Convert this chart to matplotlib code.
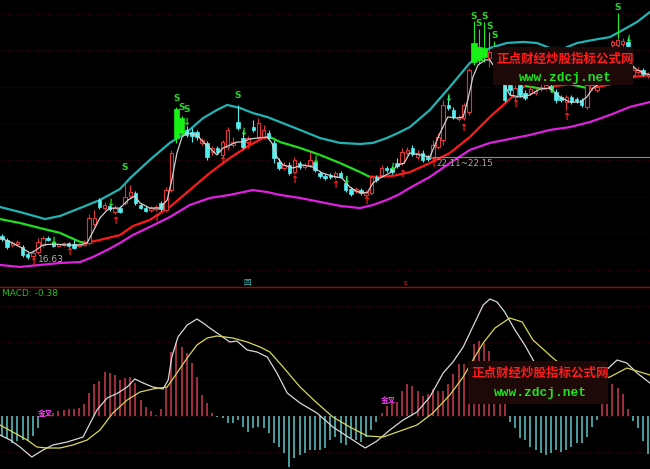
import matplotlib
matplotlib.use('Agg')
import matplotlib.pyplot as plt
from matplotlib.patches import Rectangle
from matplotlib.collections import LineCollection
from matplotlib.lines import Line2D
import numpy as np

# ---------------- data ----------------
opens = [17.89, 17.67, 17.39, 17.44, 17.28, 16.89, 16.78, 17.0, 17.39, 17.78,
         17.56, 17.33, 17.39, 17.5, 17.44, 17.33, 17.39, 17.5, 18.56, 19.89,
         19.44, 19.56, 19.22, 19.44, 19.72, 20.11, 20.28, 19.61, 19.44, 19.33,
         19.39, 19.72, 19.33, 20.44, 23.33, 23.61, 23.78, 23.67, 23.67, 23.06,
         23.06, 22.56, 22.78, 22.39, 22.83, 22.94, 24.22, 23.33, 23.11, 23.94,
         23.39, 23.39, 23.61, 23.06, 22.0, 21.67, 21.83, 21.44, 21.94, 21.72,
         21.83, 22.0, 21.39, 21.22, 21.28, 21.17, 21.39, 20.83, 20.5, 20.39,
         20.44, 20.17, 20.28, 21.17, 21.28, 21.67, 21.67, 21.94, 21.94, 22.5,
         22.78, 22.28, 22.5, 22.28, 22.22, 22.83, 23.22, 25.17, 24.89, 24.39,
         24.44, 24.78, 27.56, 27.67, 27.83, 27.78, 28.22, 27.11, 26.39, 26.28,
         25.61, 26.28, 25.83, 25.83, 25.83, 26.06, 26.11, 26.22, 25.89, 25.61,
         25.33, 25.61, 25.5, 25.44, 25.06, 26.11, 26.0, 26.56, 27.11, 28.5,
         28.5, 28.56, 28.67, 26.83, 27.0, 27.11, 26.78]
closes = [17.72, 17.28, 17.5, 17.56, 16.83, 16.72, 16.94, 17.56, 17.78, 17.67,
          17.33, 17.44, 17.5, 17.33, 17.22, 17.44, 17.5, 18.89, 18.89, 19.5,
          19.61, 19.39, 19.44, 19.22, 20.06, 20.33, 19.72, 19.44, 19.28, 19.44,
          19.5, 19.39, 20.44, 22.5, 24.94, 24.44, 23.5, 23.44, 23.39, 23.22,
          22.28, 22.78, 22.56, 23.11, 23.78, 23.11, 23.89, 22.83, 23.33, 23.78,
          24.17, 23.78, 23.33, 22.22, 21.67, 21.83, 21.39, 22.11, 21.72, 21.83,
          22.11, 21.56, 21.22, 21.11, 21.17, 21.39, 21.17, 20.44, 20.22, 20.5,
          20.28, 20.33, 21.17, 21.0, 21.67, 21.56, 21.44, 21.78, 22.56, 22.67,
          22.44, 22.5, 22.11, 22.17, 22.94, 23.39, 25.17, 25.0, 24.5, 24.5,
          25.17, 27.11, 28.61, 28.39, 28.33, 28.11, 28.06, 26.67, 25.44, 26.0,
          26.11, 25.72, 25.56, 26.06, 25.94, 26.17, 26.28, 26.06, 25.44, 25.44,
          25.61, 25.33, 25.39, 25.17, 26.28, 26.28, 26.17, 27.11, 27.94, 28.67,
          28.78, 28.72, 28.44, 27.11, 27.11, 26.89, 26.89]
highs = [18.0, 17.78, 17.61, 17.67, 17.39, 17.0, 17.11, 17.78, 17.89, 17.89,
         17.61, 17.5, 17.56, 17.56, 17.67, 17.5, 17.67, 19.11, 19.33, 20.0,
         19.78, 19.61, 19.61, 19.56, 20.83, 20.72, 20.39, 19.72, 19.56, 19.56,
         19.61, 19.83, 20.61, 22.67, 25.06, 24.56, 24.0, 23.89, 23.78, 23.33,
         23.17, 22.89, 22.89, 23.22, 23.94, 23.39, 25.17, 23.78, 23.44, 24.33,
         24.44, 24.06, 23.78, 23.22, 22.22, 22.0, 22.0, 22.28, 22.06, 21.94,
         22.56, 22.11, 21.5, 21.33, 21.39, 21.5, 21.5, 21.22, 20.61, 20.61,
         20.56, 20.44, 21.28, 21.28, 21.83, 21.78, 21.78, 22.22, 22.78, 22.83,
         22.94, 22.67, 22.67, 22.39, 23.22, 23.61, 25.44, 25.72, 25.06, 24.61,
         25.28, 27.22, 28.78, 28.5, 28.5, 28.33, 28.5, 27.39, 26.56, 26.44,
         26.28, 26.39, 26.0, 26.22, 26.11, 26.33, 26.39, 26.33, 26.06, 25.72,
         25.72, 25.72, 25.61, 25.56, 26.39, 26.39, 26.28, 27.28, 28.11, 28.78,
         28.89, 28.89, 28.94, 27.39, 27.28, 27.22, 27.0]
lows = [17.61, 17.17, 17.28, 17.33, 16.72, 16.63, 16.67, 16.89, 17.28, 17.61,
        17.28, 17.28, 17.33, 17.28, 17.17, 17.28, 17.33, 17.39, 18.44, 19.39,
        19.33, 19.28, 19.11, 19.17, 19.61, 20.0, 19.61, 19.39, 19.22, 19.22,
        19.28, 19.28, 19.22, 20.33, 23.06, 23.5, 23.39, 23.11, 23.22, 22.94,
        22.11, 22.39, 22.44, 22.28, 22.67, 22.83, 23.78, 22.72, 23.0, 23.67,
        23.28, 23.28, 23.22, 21.94, 21.56, 21.56, 21.28, 21.33, 21.61, 21.61,
        21.72, 21.44, 21.11, 21.0, 21.06, 21.06, 21.11, 20.33, 20.11, 20.28,
        20.17, 20.06, 20.17, 20.89, 21.17, 21.44, 21.33, 21.67, 21.83, 22.39,
        22.33, 22.17, 22.0, 22.06, 22.11, 22.72, 22.94, 24.89, 24.39, 24.28,
        24.33, 24.61, 27.39, 27.5, 27.56, 27.28, 27.94, 26.56, 25.33, 25.72,
        25.44, 25.61, 25.44, 25.72, 25.72, 25.94, 26.0, 25.94, 25.28, 25.33,
        24.89, 25.22, 25.28, 25.06, 24.94, 26.0, 25.89, 26.44, 27.0, 28.33,
        28.39, 28.39, 28.39, 26.67, 26.89, 26.78, 26.67]
signal_bars = [34, 35, 92, 93, 94]

upper_x = [-0.4, 3.5, 8.4, 11.3, 15.2, 19.1, 23, 25, 28.8, 32.7, 36.1, 39.2, 41.9, 43.9, 46.4,
           48.9, 51.7, 54.2, 58.1, 62, 65.9, 69.8, 72.3, 75, 77.2, 79.5, 83.4, 87.3, 91.2, 95.1,
           98.4, 101.6, 104.3, 106.8, 109.7, 112.1, 115.2, 118.5, 121, 123.8, 126.3]
upper_p = [19.5, 19.22, 18.83, 19.0, 19.44, 19.89, 20.5, 21.11, 22.11, 23.06, 23.67, 24.44, 24.89,
           25.17, 25.0, 24.72, 24.5, 24.22, 23.78, 23.33, 23.06, 23.0, 23.06, 23.33, 23.61, 23.94,
           24.89, 26.17, 27.5, 28.33, 28.61, 28.67, 28.61, 28.33, 28.33, 28.61, 28.78, 28.94,
           29.33, 29.78, 30.33]
ma_x = [-0.4, 3.5, 7.4, 11.3, 15.2, 16.4, 19.1, 23, 25.5, 28.8, 32.7, 36.6, 40.5, 44.4, 48.3,
        50.9, 52.2, 54.2, 58.1, 62, 65.9, 69.8, 71.7, 74.7, 76.6, 79.5, 83.4, 87.3, 91.2, 95.1,
        99, 101, 102, 105.5, 107.8, 110.7, 114, 116, 119.9, 123, 126.3]
ma_p = [18.83, 18.61, 18.33, 18.06, 17.56, 17.5, 17.67, 17.94, 18.44, 18.78, 19.5, 20.44, 21.39,
        22.22, 22.94, 23.33, 23.39, 23.11, 22.78, 22.39, 21.94, 21.44, 21.17, 21.19, 21.25, 21.44,
        21.94, 22.5, 23.39, 24.5, 25.5, 26.06, 26.22, 26.06, 26.22, 26.33, 26.11, 26.17, 26.39,
        26.72, 26.83]
lower_x = [-0.4, 3.5, 7.4, 11.3, 15.2, 17.7, 20.5, 23, 25.5, 28.8, 32.7, 36.6, 40.5, 44.4, 48.9,
           51.7, 54.2, 58.1, 62, 65.9, 69.8, 72.3, 75, 77.2, 79.5, 83.4, 87.3, 91.2, 95.1, 99,
           102.9, 106.8, 110.7, 114.6, 118.5, 122.4, 126.3]
lower_p = [16.28, 16.17, 16.28, 16.39, 16.44, 16.72, 17.11, 17.5, 17.94, 18.39, 18.94, 19.61, 20.0,
           20.17, 20.44, 20.33, 20.17, 20.0, 19.78, 19.56, 19.44, 19.61, 19.89, 20.17, 20.56, 21.17,
           21.94, 22.67, 23.06, 23.28, 23.5, 23.78, 23.94, 24.22, 24.61, 25.06, 25.33]
white_x = [-0.4, 1.6, 3.5, 5.5, 6.4, 8, 9.9, 12.7, 15.2, 16.6, 17.7, 19.1, 20.5, 21.6, 23, 24.6,
           25.9, 26.9, 28.8, 30.8, 32.2, 33.1, 34.1, 35.1, 36.1, 38, 39.2, 40.5, 41.9, 43.1, 44.4,
           45.8, 47, 48.3, 49.9, 51.7, 52.6, 53.6, 54.8, 56.7, 58.7, 60.6, 62.4, 64.3, 66.3, 67.8,
           69.4, 71.2, 72.3, 73.7, 75.6, 77.2, 78.4, 79.5, 81.5, 83.4, 85.4, 86.9, 88.7, 89.9,
           90.8, 91.8, 92.8, 94.2, 95.1, 97, 99, 101, 102.9, 104.9, 106.8, 108.8, 110.7, 112.7,
           114, 115.2, 116.6, 119.5, 122, 123.8, 126.3]
white_p = [17.78, 17.56, 17.28, 16.94, 17.06, 17.39, 17.44, 17.39, 17.39, 17.5, 18.11, 18.89, 19.33,
           19.44, 19.44, 19.89, 20.11, 19.72, 19.44, 19.44, 19.89, 21.0, 22.5, 23.39, 23.61, 23.5,
           23.11, 22.78, 22.39, 22.78, 22.94, 23.11, 23.11, 23.28, 23.33, 23.39, 23.06, 22.28,
           21.83, 21.67, 21.83, 21.72, 21.39, 21.22, 21.11, 20.61, 20.33, 20.28, 20.83, 21.11,
           21.39, 21.83, 21.94, 22.5, 22.39, 22.28, 23.61, 24.5, 24.44, 24.5, 25.44, 26.72, 27.39,
           27.67, 27.67, 26.83, 25.72, 25.61, 25.72, 26.06, 26.11, 25.61, 25.33, 25.33, 25.61,
           26.11, 26.39, 27.11, 27.56, 27.11, 26.83]

s_idx = [24, 34, 35, 36, 46, 92, 93, 94, 95, 96, 120]
s_price = [21.67, 25.5, 25.0, 24.89, 25.72, 30.11, 29.67, 30.06, 29.5, 29.0, 30.56]
s_stem = [False, False, False, False, False, True, True, True, True, True, True]
down_idx = [10, 21, 36, 47, 61, 67, 76, 87, 107, 122]
down_price = [17.62, 19.72, 24.22, 23.67, 22.11, 21.0, 21.7, 25.56, 26.0, 28.85]
up_idx = [6, 13, 22, 30, 43, 48, 57, 65, 71, 78, 84, 90, 100, 110]
up_price = [16.44, 17.0, 18.72, 18.89, 22.06, 22.89, 21.0, 20.72, 19.83, 21.33, 21.89, 23.89,
            25.22, 24.5]
low_label = "16.63"
range_label = "22.11~22.15"
range_level = 22.28

macd_hist = [-0.20, -0.23, -0.27, -0.25, -0.24, -0.25, -0.20, -0.12, 0.02, 0.02,
             0.03, 0.05, 0.06, 0.07, 0.07, 0.08, 0.12, 0.23, 0.32, 0.35,
             0.44, 0.43, 0.41, 0.36, 0.38, 0.39, 0.33, 0.16, 0.09, 0.05,
             0.01, 0.07, 0.29, 0.64, 0.73, 0.69, 0.63, 0.53, 0.39, 0.21,
             0.13, 0.03, -0.01, -0.02, -0.07, -0.07, -0.04, -0.11, -0.16, -0.12,
             -0.11, -0.12, -0.17, -0.27, -0.31, -0.37, -0.51, -0.42, -0.39, -0.37,
             -0.34, -0.34, -0.34, -0.32, -0.24, -0.21, -0.27, -0.29, -0.22, -0.24,
             -0.26, -0.21, -0.14, -0.06, 0.03, 0.10, 0.15, 0.14, 0.25, 0.32,
             0.30, 0.25, 0.20, 0.22, 0.27, 0.25, 0.25, 0.32, 0.42, 0.52,
             0.52, 0.50, 0.72, 0.75, 0.73, 0.65, 0.50, 0.35, 0.15, -0.06,
             -0.12, -0.22, -0.24, -0.31, -0.34, -0.37, -0.39, -0.37, -0.34, -0.36,
             -0.34, -0.31, -0.27, -0.27, -0.21, -0.11, -0.04, 0.15, 0.25, 0.32,
             0.28, 0.22, 0.07, -0.05, -0.12, -0.25, -0.38]
dif_x = [-0.4, 1.6, 3.5, 5.8, 8, 9.9, 12.7, 15.8, 17.2, 18.5, 20.5, 22.6, 24.4, 25.9, 27.5, 29.4,
         31.4, 32.4, 33.1, 34.3, 36.1, 38, 39.2, 40.5, 42.5, 44.4, 45.8, 47.8, 49.7, 51.7, 53.6,
         55.6, 58.1, 61.4, 64.5, 67.8, 70.8, 73.1, 75.6, 78.2, 80.9, 83.4, 86, 87.9, 89.9, 91.2,
         92.6, 93.8, 95.1, 96.5, 98, 100, 101.9, 104.3, 106.8, 109.7, 112.7, 115, 117.2, 119.9,
         121.8, 123.8, 126.3]
dif_v = [-0.19, -0.24, -0.31, -0.41, -0.34, -0.29, -0.26, -0.21, -0.07, 0.06, 0.18, 0.23, 0.29,
         0.37, 0.33, 0.29, 0.27, 0.36, 0.59, 0.79, 0.91, 0.97, 0.93, 0.88, 0.81, 0.74, 0.75, 0.66,
         0.64, 0.59, 0.43, 0.23, 0.13, 0.03, -0.11, -0.22, -0.32, -0.25, -0.14, -0.04, 0.04, 0.19,
         0.43, 0.54, 0.69, 0.83, 0.98, 1.11, 1.17, 1.14, 1.04, 0.86, 0.71, 0.49, 0.36, 0.26, 0.21,
         0.28, 0.43, 0.56, 0.53, 0.43, 0.33]
dea_x = [-0.4, 2.1, 4.9, 6.8, 8.8, 11.3, 13.8, 16.6, 19.1, 21.6, 24.4, 26.9, 29.4, 32.2, 34.1,
         36.1, 38, 40, 41.9, 45, 47.8, 50.3, 52.2, 54.8, 58.1, 61.4, 64.5, 67.8, 71.2, 74.3, 77.6,
         80.9, 84, 87.3, 89.9, 91.8, 93.8, 96.1, 99, 101.4, 103.5, 107.4, 110.7, 114.6, 118.5,
         121.8, 124.4, 126.3]
dea_v = [-0.09, -0.16, -0.24, -0.31, -0.32, -0.32, -0.29, -0.24, -0.14, 0.03, 0.16, 0.24, 0.27,
         0.29, 0.43, 0.58, 0.71, 0.78, 0.80, 0.78, 0.74, 0.69, 0.64, 0.49, 0.29, 0.13, -0.01,
         -0.11, -0.2, -0.21, -0.15, -0.09, 0.03, 0.21, 0.39, 0.56, 0.73, 0.88, 0.98, 0.94, 0.76,
         0.58, 0.44, 0.34, 0.39, 0.48, 0.44, 0.41]
cross_idx = [8.5, 75.3]
cross_val = [0.03, 0.16]
cross_label = "金叉"
macd_label = "MACD: -0.38"
site_cn = "正点财经炒股指标公式网"
site_url = "www.zdcj.net"

# ---------------- style ----------------
W, H = 650, 469
CJK = ['Noto Sans CJK SC', 'DejaVu Sans']
RED = '#e0363a'
CYAN = '#54f0f0'
SIG = '#18f018'
price_grid = [16.0, 18.05, 20.07, 22.1, 24.15, 26.17, 28.2, 30.22]
macd_grid = [-0.36, 0.0, 0.37, 0.74, 1.10]

fig = plt.figure(figsize=(W / 100, H / 100), dpi=100, facecolor='black')
top_px, sep_px = 286, 288
ax = fig.add_axes([0, 1 - top_px / H, 1, top_px / H])
axm = fig.add_axes([0, 0, 1, 1 - sep_px / H])
for a in (ax, axm):
    a.set_facecolor('black')
    a.axis('off')
    a.set_xlim(-0.39, 126.32)
ax.set_ylim(15.11, 31.0)
axm.set_ylim(-0.53, 1.28)

for g in price_grid:
    ax.axhline(g, color='#4a0000', lw=0.6, ls=(0, (1, 2)), zorder=0)
for g in macd_grid:
    axm.axhline(g, color='#4a0000', lw=0.6, ls=(0, (1, 2)), zorder=0)

# bands and moving averages
ax.plot(upper_x, upper_p, color='#22b4b4', lw=1.6, zorder=2)
ax.plot(lower_x, lower_p, color='#e020e0', lw=1.6, zorder=2)
pts = np.column_stack([ma_x, ma_p])
segs = np.stack([pts[:-1], pts[1:]], axis=1)
seg_cols = ['#ff1a1a' if b >= a else '#20e020' for a, b in zip(ma_p[:-1], ma_p[1:])]
ax.add_collection(LineCollection(segs, colors=seg_cols, linewidths=1.6, zorder=2))
ax.plot(white_x, white_p, color='#d0d0d0', lw=0.9, zorder=4)

# candles
for i, (o, c, h, l) in enumerate(zip(opens, closes, highs, lows)):
    if i in signal_bars:
        col = SIG
    elif c >= o:
        col = RED
    else:
        col = CYAN
    ax.vlines(i, l, h, color=col, lw=0.8, zorder=3)
    lo, hi = min(o, c), max(o, c)
    hgt = max(hi - lo, 0.03)
    if i in signal_bars:
        ax.add_patch(Rectangle((i - 0.5, lo), 1.0, hgt, fc=SIG, ec=SIG, lw=0.5, zorder=3.5))
    elif c >= o:
        ax.add_patch(Rectangle((i - 0.34, lo), 0.68, hgt, fc='black', ec=RED, lw=0.8, zorder=3.5))
    else:
        ax.add_patch(Rectangle((i - 0.34, lo), 0.68, hgt, fc=CYAN, ec=CYAN, lw=0.5, zorder=3.5))

# signals
for i, p, stem in zip(s_idx, s_price, s_stem):
    ax.text(i, p, 'S', color='#30d030', fontsize=6.5, ha='center', va='center',
            fontweight='bold', zorder=6)
    if stem:
        ax.vlines(i, highs[i], p - 0.3, color=SIG, lw=0.8, zorder=5)
for i, p in zip(down_idx, down_price):
    ax.text(i, p, '↓', color='#20f020', fontsize=7, ha='center', va='center',
            fontweight='bold', zorder=6)
for i, p in zip(up_idx, up_price):
    ax.text(i, p, '↑', color='#ff2020', fontsize=7, ha='center', va='center',
            fontweight='bold', zorder=6)

ax.text(6.95, 16.56, low_label, color='#b0b0b0', fontsize=6.5, ha='left', va='center', zorder=6)
ax.hlines(range_level, 83.8, 126.32, color='#8c8c8c', lw=0.8, zorder=4)
ax.text(84.7, 21.94, range_label, color='#a8a8a8', fontsize=6.3, ha='left', va='center', zorder=6)
ax.text(47.8, 15.3, '回', color='#40c0c0', fontsize=5.5, ha='center', va='center',
        family=CJK, zorder=6)
ax.text(78.6, 15.3, 's', color='#e03030', fontsize=5, ha='center', va='center', zorder=6)

# MACD panel
mx = np.arange(len(macd_hist))
mcols = ['#d03a50' if v >= 0 else '#5cc8c8' for v in macd_hist]
axm.vlines(mx, 0, macd_hist, colors=mcols, lw=1.1, zorder=2)
axm.plot(dif_x, dif_v, color='#d8d8d8', lw=0.9, zorder=3)
axm.plot(dea_x, dea_v, color='#d8d85a', lw=0.9, zorder=3)
for i, v in zip(cross_idx, cross_val):
    axm.text(i, v, cross_label, color='#f040f0', fontsize=5.5, ha='center', va='center',
             family=CJK, fontweight='bold', zorder=4)

# separators and labels
fig.add_artist(Line2D([0, 1], [1 - 287 / H] * 2, color='#b00000', lw=1.0, zorder=3))
fig.text(2 / W, 1 - 293 / H, macd_label, color='#20c020', fontsize=6.5, ha='left',
         va='center', zorder=6)

# watermark boxes
def watermark(x0, y0, x1, y1, cy1, cy2):
    fig.add_artist(Rectangle((x0 / W, 1 - y1 / H), (x1 - x0) / W, (y1 - y0) / H,
                             transform=fig.transFigure, fc='#1e0909', ec='none', zorder=8))
    cx = (x0 + x1) / 2 + 2
    fig.text(cx / W, 1 - cy1 / H, site_cn, color='#ff1c1c', fontsize=9.0, fontweight='bold',
             family=CJK, ha='center', va='center', zorder=9)
    fig.text(cx / W, 1 - cy2 / H, site_url, color='#20e020', fontsize=9.3, fontweight='bold',
             family='Liberation Mono', ha='center', va='center', zorder=9)

watermark(493, 47, 633, 85, 59.5, 77.5)
watermark(468, 361, 608, 404, 373.5, 393)

fig.savefig('out.png', dpi=100, facecolor='black')
